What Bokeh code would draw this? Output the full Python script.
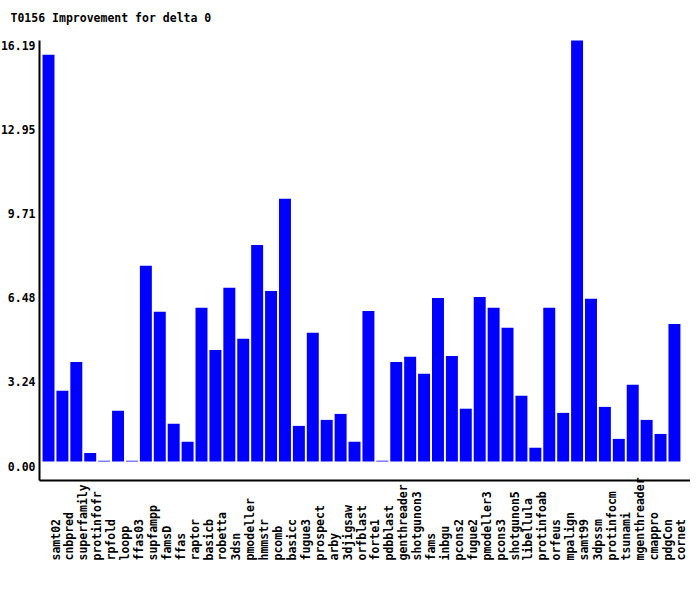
from math import pi
from bokeh.plotting import figure
from bokeh.models import ColumnDataSource, Range1d
from bokeh.core.properties import value
from bokeh.embed import file_html
from bokeh.resources import INLINE

title = "T0156 Improvement for delta 0"
methods = ["samt02", "cnbpred", "superfamily", "protinfofr", "rpfold", "loopp", "ffas03",
           "supfampp", "famsD", "ffas", "raptor", "basicb", "robetta", "3dsn", "pmodeller",
           "hmmstr", "pcomb", "basicc", "fugue3", "prospect", "arby", "3djigsaw", "orfblast",
           "forte1", "pdbblast", "genthreader", "shotgunon3", "fams", "inbgu", "pcons2",
           "fugue2", "pmodeller3", "pcons3", "shotgunon5", "libellula", "protinfoab",
           "orfeus", "mpalign", "samt99", "3dpssm", "protinfocm", "tsunami", "mgenthreader",
           "cmappro", "pdgCon", "cornet"]
improvement = [15.64, 2.72, 3.83, 0.33, 0.03, 1.95, 0.03,
               7.53, 5.76, 1.45, 0.76, 5.91, 4.29, 6.68, 4.72,
               8.33, 6.56, 10.10, 1.37, 4.95, 1.60, 1.83, 0.76,
               5.79, 0.03, 3.83, 4.03, 3.37, 6.29, 4.06,
               2.03, 6.33, 5.91, 5.14, 2.53, 0.53,
               5.91, 1.87, 16.19, 6.26, 2.10, 0.87, 2.95,
               1.60, 1.06, 5.29]
y_ticks = [0.00, 3.24, 6.48, 9.71, 12.95, 16.19]
y_tick_labels = ["0.00", "3.24", "6.48", "9.71", "12.95", "16.19"]

FONT = value("DejaVu Sans Mono")
FS = value("11.5px")

W, H = 690, 574
# layout in canvas pixels
axis_px = 39.0          # y-axis line x
first_px = 48.0         # first bar centre x
pitch = 13.91           # px per category
zero_py = 461.0         # y pixel of value 0
top_py = 40.0           # y pixel of max value
xaxis_py = 480.0        # x-axis line y
label_py = 560.0        # start of category labels
y_max = max(y_ticks)
ppu = (zero_py - top_py) / y_max   # px per unit

def xd(px):
    return (px - first_px) / pitch

def yd(py):
    return (zero_py - py) / ppu

x0, x1 = xd(0), xd(W)
y0, y1 = yd(H), yd(0)

idx = list(range(len(methods)))
src = ColumnDataSource(dict(x=idx, top=improvement, name=methods))

p = figure(width=W, height=H, output_backend="svg", toolbar_location=None,
           x_range=Range1d(x0, x1), y_range=Range1d(y0, y1),
           min_border=0, min_border_left=0, min_border_right=0,
           min_border_top=0, min_border_bottom=0)
p.axis.visible = False
p.xgrid.visible = False
p.ygrid.visible = False
p.outline_line_color = None
p.background_fill_color = "white"
p.border_fill_color = "white"

p.vbar(x="x", top="top", width=0.86, bottom=0, source=src,
       fill_color="#0000FF", line_color=None)

# axes lines
ax_x = xd(axis_px)
ax_y = yd(xaxis_py)
ax_right = xd(W)
p.segment(x0=[ax_x], y0=[ax_y], x1=[ax_x], y1=[y_max], line_color="black", line_width=2)
p.segment(x0=[ax_x], y0=[ax_y], x1=[ax_right], y1=[ax_y], line_color="black", line_width=2)

# y tick labels
p.text(x=[ax_x] * len(y_ticks), y=y_ticks, text=y_tick_labels,
       x_offset=-4, y_offset=0, text_align="right", text_baseline="top",
       text_font=FONT, text_font_size=FS, text_font_style="bold", text_color="black")

# x category labels (vertical, starting at bottom)
p.text(x="x", y=yd(label_py), text="name", source=src, angle=pi / 2,
       text_align="left", text_baseline="top",
       text_font=FONT, text_font_size=FS, text_font_style="bold", text_color="black")

# title
p.text(x=[xd(10.0)], y=[yd(17.0)], text=[title], text_align="left", text_baseline="middle",
       text_font=FONT, text_font_size=FS, text_font_style="bold", text_color="black")

open("out.html", "w").write(file_html(p, INLINE))
